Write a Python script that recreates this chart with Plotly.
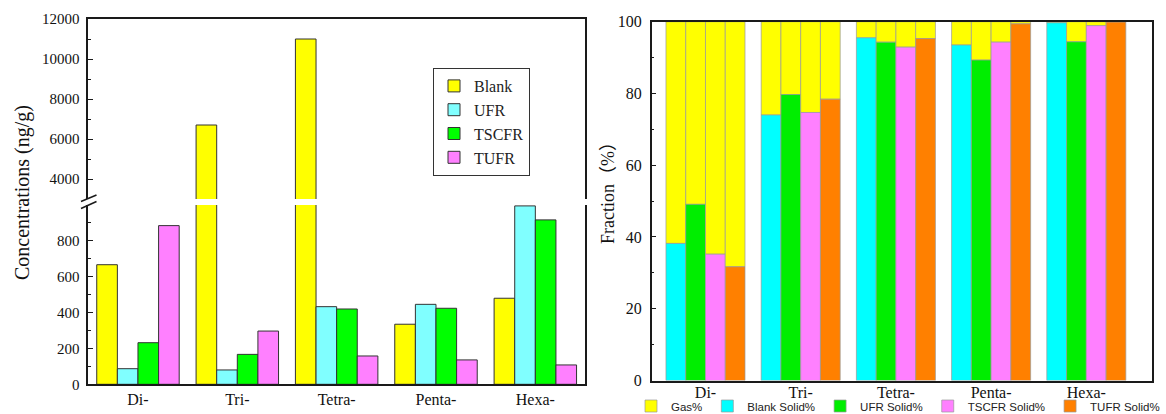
import plotly.graph_objects as go

# ---------------- data ----------------
categories = ["Di-", "Tri-", "Tetra-", "Penta-", "Hexa-"]

conc_names = ["Blank", "UFR", "TSCFR", "TUFR"]
blank_conc = [667, 6700, 11000, 335, 480]
ufr_conc = [87, 80, 433, 446, 995]
tscfr_conc = [232, 167, 420, 424, 917]
tufr_conc = [885, 297, 158, 136, 108]

solid_names = ["Blank Solid%", "UFR Solid%", "TSCFR Solid%", "TUFR Solid%"]
gas_name = "Gas%"
blank_solid = [38.2, 74.0, 95.5, 93.5, 99.7]
ufr_solid = [49.1, 79.7, 94.3, 89.3, 94.4]
tscfr_solid = [35.2, 74.7, 92.9, 94.3, 98.9]
tufr_solid = [31.7, 78.4, 95.3, 99.4, 99.9]

low_ticks = [0, 200, 400, 600, 800]
low_minor = [100, 300, 500, 700, 900]
high_ticks = [4000, 6000, 8000, 10000, 12000]
high_minor = [5000, 7000, 9000, 11000]
frac_ticks = [0, 20, 40, 60, 80, 100]
frac_minor = [10, 30, 50, 70, 90]

# ---------------- styles ----------------
W, H = 1166, 414
SERIF = "Liberation Serif, Times New Roman, serif"
SANS = "Liberation Sans, Arial, sans-serif"
LINE = "#1a1a1a"
conc_colors = ["#FFFF00", "#80FFFF", "#00FF00", "#FF80FF"]
solid_colors = ["#00FFFF", "#00EE00", "#FF80FF", "#FF8000"]
gas_color = "#FFFF00"

def px_x(x):
    return x / W

def px_y(y):
    return 1 - y / H

fig = go.Figure()

# ---------------- left panel (broken axis) ----------------
conc_values = [blank_conc, ufr_conc, tscfr_conc, tufr_conc]
for name, vals, col in zip(conc_names, conc_values, conc_colors):
    fig.add_trace(go.Bar(
        x=categories, y=vals, name=name, xaxis="x", yaxis="y",
        marker=dict(color=col, line=dict(color="#333333", width=1)),
        legend="legend", showlegend=True,
    ))
for name, vals, col in zip(conc_names, conc_values, conc_colors):
    fig.add_trace(go.Bar(
        x=categories, y=vals, name=name, xaxis="x2", yaxis="y2",
        marker=dict(color=col, line=dict(color="#333333", width=1)),
        showlegend=False,
    ))

# ---------------- right panel (stacked fractions) ----------------
solid_values = [blank_solid, ufr_solid, tscfr_solid, tufr_solid]
for i, (name, vals, col) in enumerate(zip(solid_names, solid_values, solid_colors)):
    gas_vals = [100 - v for v in vals]
    fig.add_trace(go.Bar(
        x=categories, y=gas_vals, base=vals, name=gas_name,
        xaxis="x3", yaxis="y3", offsetgroup=str(i),
        marker=dict(color=gas_color, line=dict(color="#9a9a9a", width=0.7)),
        legend="legend2", showlegend=(i == 0), legendrank=1,
    ))
    fig.add_trace(go.Bar(
        x=categories, y=vals, name=name,
        xaxis="x3", yaxis="y3", offsetgroup=str(i),
        marker=dict(color=col, line=dict(color="#9a9a9a", width=0.7)),
        legend="legend2", showlegend=True, legendrank=2 + i,
    ))

left_dom = [px_x(88.3), px_x(585)]
right_dom = [px_x(651.7), px_x(1152.3)]

axis_common = dict(showline=True, linecolor=LINE, linewidth=1.5,
                   showgrid=False, zeroline=False, automargin=False)

fig.update_layout(
    width=W, height=H, autosize=False,
    margin=dict(l=0, r=0, t=0, b=0, autoexpand=False),
    paper_bgcolor="white", plot_bgcolor="white",
    barmode="group", bargap=0.17, bargroupgap=0,
    xaxis=dict(domain=left_dom, anchor="y", type="category",
               range=[-0.5, 4.5], ticks="", **axis_common,
               tickfont=dict(family=SERIF, size=16, color="#111")),
    yaxis=dict(domain=[px_y(384.3), px_y(205)], anchor="x",
               range=[0, 1000], tickmode="array", tickvals=low_ticks,
               tickformat="d",
               ticks="inside", ticklen=5, tickcolor=LINE, mirror=True,
               minor=dict(tickmode="array", tickvals=low_minor,
                          ticks="inside", ticklen=3, tickcolor=LINE),
               ticklabelstandoff=4,
               tickfont=dict(family=SERIF, size=15, color="#111"),
               **axis_common),
    xaxis2=dict(domain=left_dom, anchor="y2", type="category",
                matches="x", side="top", showticklabels=False, ticks="",
                **axis_common),
    yaxis2=dict(domain=[px_y(199), px_y(19)], anchor="x2",
                range=[3000, 12000], tickmode="array", tickvals=high_ticks,
                tickformat="d",
                ticks="inside", ticklen=5, tickcolor=LINE, mirror=True,
                minor=dict(tickmode="array", tickvals=high_minor,
                           ticks="inside", ticklen=3, tickcolor=LINE),
                ticklabelstandoff=4,
                tickfont=dict(family=SERIF, size=15, color="#111"),
                **axis_common),
    xaxis3=dict(domain=right_dom, anchor="y3", type="category",
                range=[-0.565, 4.693], ticks="", mirror=True,
                ticklabelstandoff=-3,
                tickfont=dict(family=SERIF, size=16, color="#111"),
                **axis_common),
    yaxis3=dict(domain=[px_y(380.5), px_y(21.7)], anchor="x3",
                range=[0, 100], tickmode="array", tickvals=frac_ticks,
                tickformat="d",
                ticks="inside", ticklen=5, tickcolor=LINE, mirror=True,
                minor=dict(tickmode="array", tickvals=frac_minor,
                           ticks="inside", ticklen=3, tickcolor=LINE),
                ticklabelstandoff=5,
                tickfont=dict(family=SERIF, size=16, color="#111"),
                **axis_common),
    legend=dict(x=px_x(433), y=px_y(68), xanchor="left", yanchor="top",
                bgcolor="white", bordercolor="#333", borderwidth=1,
                font=dict(family=SERIF, size=16, color="#222"),
                tracegroupgap=0, itemwidth=30),
    legend2=dict(orientation="h", x=px_x(631), y=px_y(406),
                 xanchor="left", yanchor="middle", bgcolor="rgba(0,0,0,0)",
                 font=dict(family=SANS, size=11.5, color="#222"),
                 itemwidth=30, traceorder="normal"),
    annotations=[
        dict(text="Concentrations (ng/g)", x=px_x(22), y=px_y(193),
             xref="paper", yref="paper", xanchor="center", yanchor="middle",
             textangle=-90, showarrow=False,
             font=dict(family=SERIF, size=20, color="#111")),
        dict(text="Fraction（%）", x=px_x(608), y=px_y(189),
             xref="paper", yref="paper", xanchor="center", yanchor="middle",
             textangle=-90, showarrow=False,
             font=dict(family=SERIF + ", Noto Sans CJK SC", size=18, color="#111")),
    ],
    shapes=[
        dict(type="line", xref="paper", yref="paper",
             x0=px_x(81), y0=px_y(201.5), x1=px_x(96.5), y1=px_y(195),
             line=dict(color=LINE, width=1.5)),
        dict(type="line", xref="paper", yref="paper",
             x0=px_x(81), y0=px_y(208.5), x1=px_x(96.5), y1=px_y(201.5),
             line=dict(color=LINE, width=1.5)),
    ],
)

fig.write_html("out.html", config={"displayModeBar": False},
               post_script="document.body.style.margin='0px';document.body.style.padding='0px';")
